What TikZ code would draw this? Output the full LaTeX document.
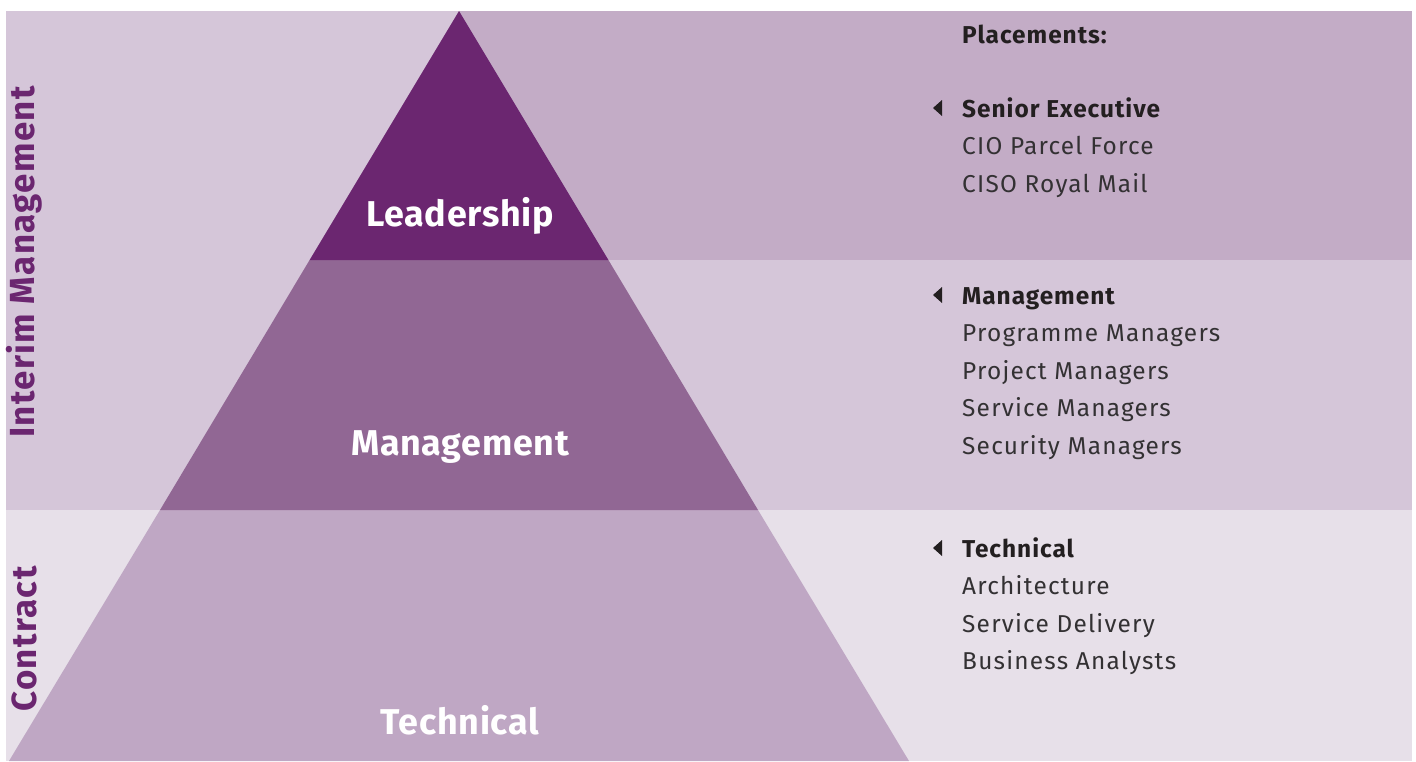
\documentclass[tikz,border=0pt]{standalone}
\usepackage{fontspec}
\setmainfont{Fira Sans}
\newfontfamily\listfont[LetterSpace=5]{Fira Sans}
\newfontfamily\headfont[LetterSpace=4]{Fira Sans}
\newfontfamily\labelfont[LetterSpace=2]{Fira Sans}
\newfontfamily\sidefont[LetterSpace=4]{Fira Sans}
\definecolor{lightpanel}{HTML}{D5C6D9}
\definecolor{topband}{HTML}{C3ACC6}
\definecolor{botband}{HTML}{E7E0E9}
\definecolor{leadc}{HTML}{6B2670}
\definecolor{mgmtc}{HTML}{916794}
\definecolor{techc}{HTML}{BFA7C4}
\definecolor{txtbold}{HTML}{231F20}
\definecolor{txtreg}{HTML}{333133}
\tikzset{
  level/.style={font=\labelfont\fontsize{36}{38}\selectfont\bfseries, text=white, inner sep=0pt, anchor=base},
  side/.style={font=\sidefont\fontsize{35}{37}\selectfont\bfseries, text=leadc, rotate=90, inner sep=0pt},
  head/.style={font=\headfont\fontsize{24.5}{26}\selectfont\bfseries, text=txtbold, anchor=base west, inner sep=0pt},
  item/.style={font=\listfont\fontsize{24.5}{26}\selectfont, text=txtreg, anchor=base west, inner sep=0pt},
  marker/.style={fill=txtbold, draw=none}
}
\begin{document}
\begin{tikzpicture}[x=1bp,y=-1bp]
\useasboundingbox (0,0) rectangle (1416,761);
\fill[white] (0,0) rectangle (1416,761);
% background bands
\fill[lightpanel] (6,11) rectangle (1412,510);
\fill[topband] (459,11) rectangle (1412,260);
\fill[botband] (6,510) rectangle (1412,761);
% pyramid
\fill[techc] (160,510) -- (758,510) -- (909,761) -- (9,761) -- cycle;
\fill[mgmtc] (309.6,260) -- (608.4,260) -- (758,510) -- (160,510) -- cycle;
\fill[leadc] (459,11) -- (608.4,260) -- (309.6,260) -- cycle;
% level labels
\node[level] (lead) at (460,226) {Leadership};
\node[level] (mgmt) at (460,455) {Management};
\node[level] (tech) at (460,734) {Technical};
% side labels
\node[side] (interim) at (24,262) {Interim Management};
\node[side] (contract) at (24,639) {Contract};
% placements list
\node[head] (plc) at (962,44) {Placements:};
\node[head] (h1) at (962,117) {Senior Executive};
\node[item] (i11) at (962,154.5) {CIO Parcel Force};
\node[item] (i12) at (962,192) {CISO Royal Mail};
\node[head] (h2) at (962,304) {Management};
\node[item] (i21) at (962,341.5) {Programme Managers};
\node[item] (i22) at (962,379) {Project Managers};
\node[item] (i23) at (962,416.5) {Service Managers};
\node[item] (i24) at (962,454) {Security Managers};
\node[head] (h3) at (962,557) {Technical};
\node[item] (i31) at (962,594.5) {Architecture};
\node[item] (i32) at (962,632) {Service Delivery};
\node[item] (i33) at (962,669.5) {Business Analysts};
% markers
\fill[marker] (933,108) -- (942,100) -- (942,116) -- cycle;
\fill[marker] (933,295) -- (942,287) -- (942,303) -- cycle;
\fill[marker] (933,548) -- (942,540) -- (942,556) -- cycle;
\end{tikzpicture}
\end{document}
